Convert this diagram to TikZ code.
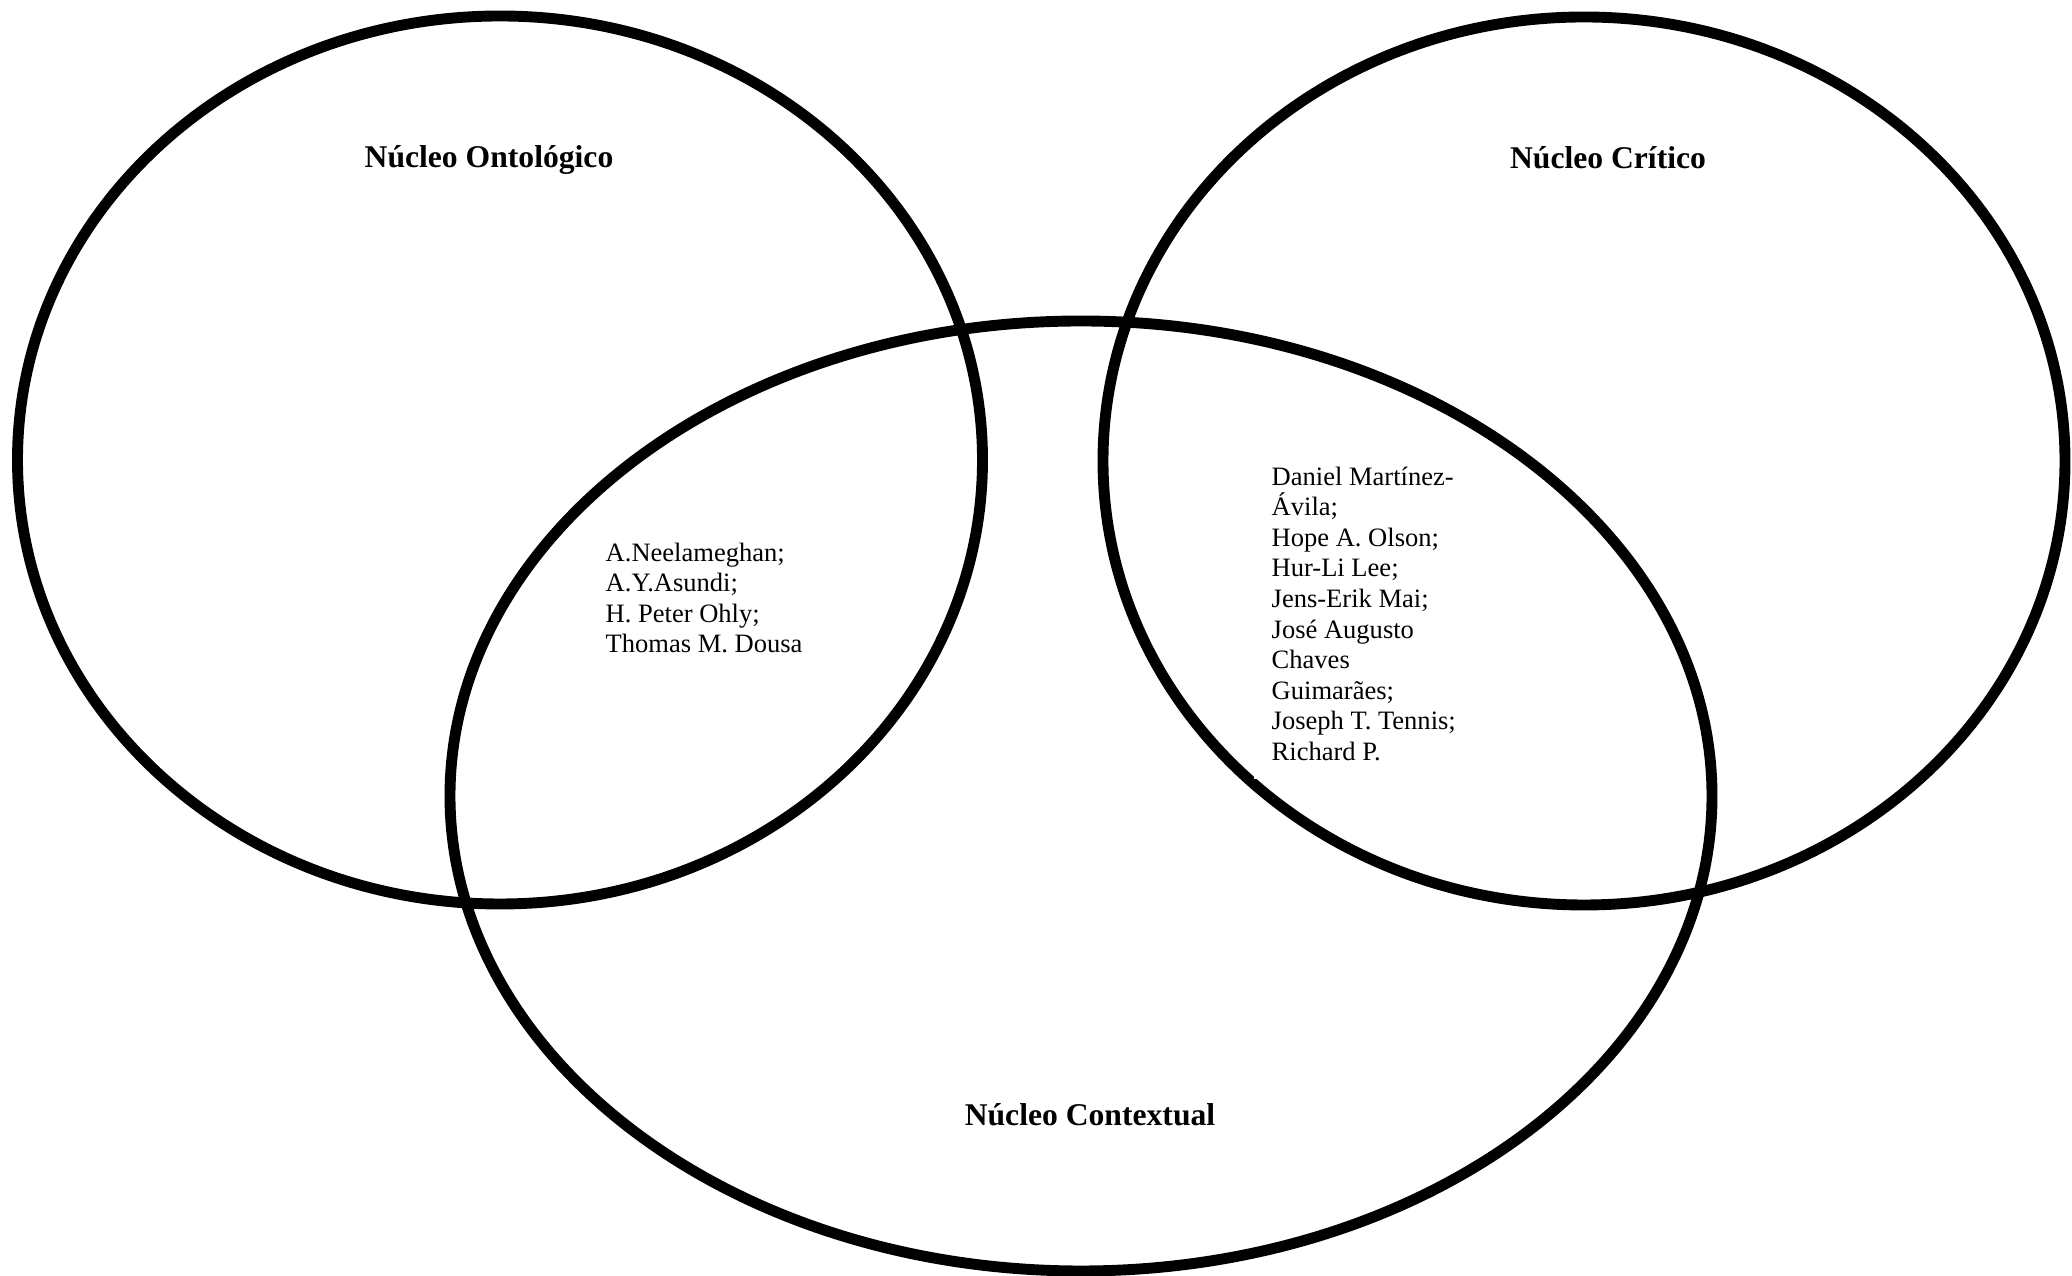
\documentclass[tikz,border=0pt]{standalone}
\usepackage{fontspec}
\setmainfont{Liberation Serif}
\usetikzlibrary{shapes.geometric}

\begin{document}
\begin{tikzpicture}
\tikzset{nucleo/.style={draw, ellipse, line width=3.1pt, inner sep=0pt}}
\tikzset{titulo/.style={font=\fontsize{9}{10.4}\selectfont\bfseries, inner sep=0pt}}
\tikzset{autores/.style={align=left, anchor=north west, font=\fontsize{7.55}{8.7}\selectfont}}
\useasboundingbox (0, 0) rectangle (20.72, 12.76);
\node[nucleo, minimum width=9.65cm, minimum height=8.88cm] (N1) at (5.00, 8.16) {};
\node[nucleo, minimum width=9.62cm, minimum height=8.88cm] (N2) at (15.84, 8.15) {};
\node[nucleo, minimum width=12.62cm, minimum height=9.50cm] (N3) at (10.81, 4.80) {};
\node[titulo] (T1) at (4.89, 11.16) {Núcleo Ontológico};
\node[titulo] (T2) at (16.08, 11.18) {Núcleo Crítico};
\node[titulo] (T3) at (10.90, 1.61) {Núcleo Contextual};
\node[autores, inner sep=0pt] (A1) at (6.05, 7.34)
  {A.Neelameghan;\\A.Y.Asundi;\\H. Peter Ohly;\\Thomas M. Dousa};
\node[autores, fill=white, inner sep=0.18cm] (A2) at (12.53, 8.28)
  {Daniel Martínez-\\Ávila;\\Hope A. Olson;\\Hur-Li Lee;\\Jens-Erik Mai;\\José Augusto\\Chaves\\Guimarães;\\Joseph T. Tennis;\\Richard P.};
\end{tikzpicture}
\end{document}
